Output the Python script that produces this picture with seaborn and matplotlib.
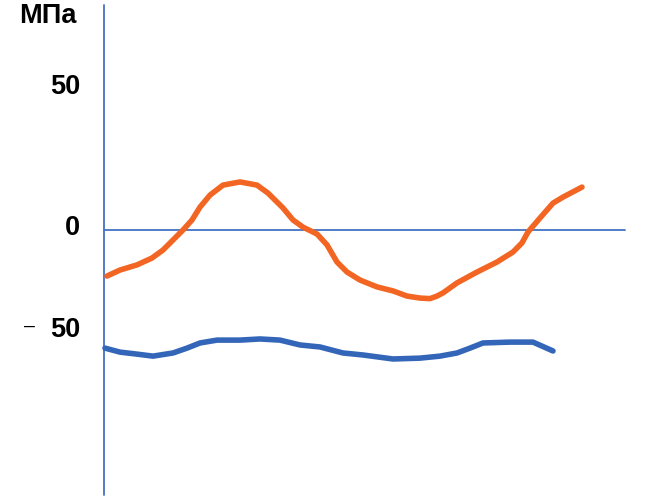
import matplotlib
matplotlib.use("Agg")
import matplotlib.pyplot as plt
import seaborn as sns
import pandas as pd

# position along the sample (arbitrary units) and stress in MPa
x_orange = [3, 16, 33, 48, 59, 69, 79, 88, 96, 106, 119, 136, 153, 164, 179, 189, 199, 213, 223, 233,
            243, 256, 273, 289, 303, 316, 326, 333, 339, 353, 373, 393, 409, 418, 424, 436, 449, 459, 478]
y_orange = [-16.1, -14.0, -12.2, -9.8, -7.0, -3.5, 0.0, 3.5, 8.0, 12.2, 15.7, 16.8, 15.7, 12.9, 7.7, 3.5,
            1.0, -1.4, -5.2, -11.2, -14.7, -17.5, -19.9, -21.3, -23.1, -23.8, -24.0, -23.1, -22.0, -18.5,
            -14.7, -11.2, -7.7, -4.5, -0.7, 4.2, 9.4, 11.5, 15.0]

x_blue = [1, 16, 33, 49, 69, 83, 96, 113, 136, 156, 176, 196, 216, 239, 259, 289, 316, 336, 353, 366,
          379, 406, 429, 449]
y_blue = [-41.3, -42.7, -43.4, -44.1, -43.0, -41.3, -39.5, -38.5, -38.5, -38.1, -38.5, -40.2, -40.9,
          -43.0, -43.7, -45.1, -44.8, -44.1, -43.0, -41.3, -39.5, -39.2, -39.2, -42.3]

tick_labels = ["50", "0", "50"]
unit_label = "МПа"

sns.set_style("white")
plt.rcParams["font.family"] = ["Liberation Sans", "DejaVu Sans"]

fig = plt.figure(figsize=(6.57, 4.97), dpi=100)
ax = fig.add_axes([0, 0, 1, 1])

px = 2.86  # pixels per MPa
axis_color = "#4472C4"
# axes lines
ax.plot([0, 0], [225 / px, -(495 - 230) / px], color=axis_color, lw=1.3)
ax.plot([0, 521], [0, 0], color=axis_color, lw=1.3)

df_o = pd.DataFrame({"x": x_orange, "y": y_orange})
df_b = pd.DataFrame({"x": x_blue, "y": y_blue})
sns.lineplot(data=df_o, x="x", y="y", ax=ax, color="#F26522", lw=4.0,
             solid_capstyle="round", solid_joinstyle="round", estimator=None, sort=False)
sns.lineplot(data=df_b, x="x", y="y", ax=ax, color="#3366B8", lw=4.0,
             solid_capstyle="round", solid_joinstyle="round", estimator=None, sort=False)
ax.axis("off")
ax.set_xlim(-104, 657 - 104)
ax.set_ylim(-(497 - 230) / px, 230 / px)

fs = 19.5
kw = dict(fontsize=fs, fontweight="bold", color="black")
ax.text(-24, 50, tick_labels[0], ha="right", va="center", **kw)
ax.text(-24, 0.6, tick_labels[1], ha="right", va="center", **kw)
ax.text(-24, -(330 - 230) / px, tick_labels[2], ha="right", va="center", **kw)
ax.text(-74, -(326 - 230) / px, "\u2013", ha="center", va="center", fontsize=14, color="black")
ax.text(-85, (230 - 16) / px, unit_label, ha="left", va="center", **kw)

fig.savefig("out.png", dpi=100)
